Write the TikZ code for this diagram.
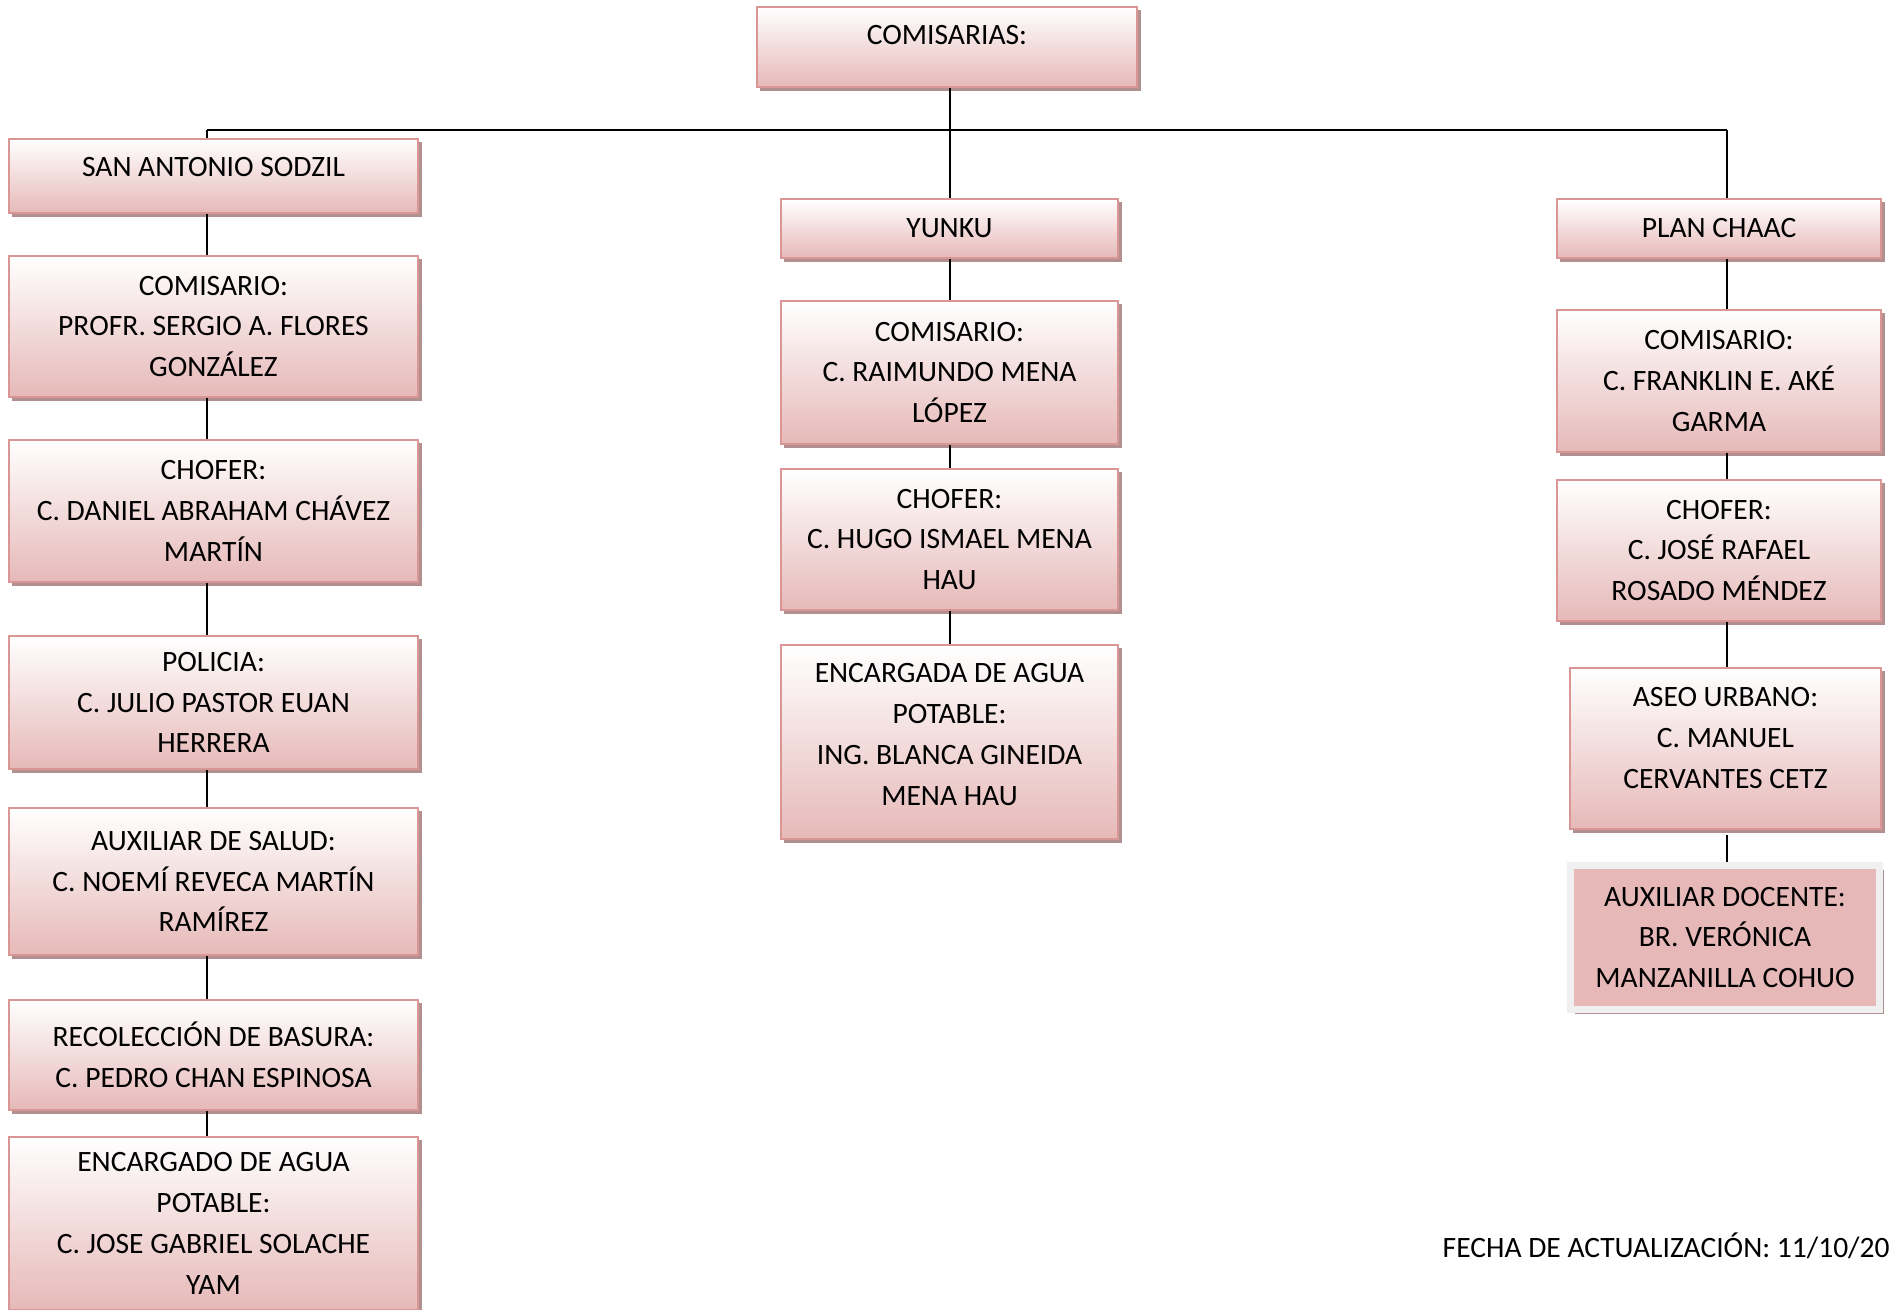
\documentclass[tikz,border=0pt]{standalone}
\usepackage{fontspec}
\setmainfont{Carlito}
\usepackage{tikz}
\usetikzlibrary{shadows}

\definecolor{rosa}{HTML}{E6B9B8}
\definecolor{rosaborde}{HTML}{D99694}
\definecolor{sombra}{HTML}{B39090}
\definecolor{grisclaro}{HTML}{F0F0F0}

\tikzset{
  caja/.style={draw=rosaborde, line width=0.7pt, top color=white, bottom color=rosa,
    align=center, inner sep=1pt,
    drop shadow={shadow xshift=0.035cm, shadow yshift=-0.035cm, fill=sombra, opacity=1}},
  izq/.style={caja, minimum width=4.09cm},
  cen/.style={caja, minimum width=3.37cm},
  der/.style={caja, minimum width=3.24cm},
  docente/.style={draw=grisclaro, line width=2pt, fill=rosa, align=center,
    drop shadow={shadow xshift=0.045cm, shadow yshift=-0.045cm, fill=sombra, opacity=1}},
  linea/.style={draw=black, line width=0.65pt}
}

\begin{document}
\begin{tikzpicture}[x=0.01cm, y=-0.01cm, font=\fontsize{8.4}{11.6}\selectfont]
\useasboundingbox (0,0) rectangle (1891,1309);

% titulo
\node[caja, minimum width=3.80cm, minimum height=0.80cm, text depth=0.24cm] (comis) at (947,47) {COMISARIAS:};
\coordinate (bus) at (950,130);
\coordinate (lx) at (207,0);
\coordinate (mx) at (950,0);
\coordinate (rx) at (1727,0);

% San Antonio Sodzil
\node[izq, minimum height=0.74cm, text depth=0.18cm] (san) at (213.5,176) {SAN ANTONIO SODZIL};
\node[izq, minimum height=1.41cm] (com1) at (213.5,326.5) {COMISARIO:\\PROFR. SERGIO A. FLORES\\GONZÁLEZ};
\node[izq, minimum height=1.42cm] (cho1) at (213.5,511) {CHOFER:\\C. DANIEL ABRAHAM CHÁVEZ\\MARTÍN};
\node[izq, minimum height=1.33cm] (pol) at (213.5,702.5) {POLICIA:\\C. JULIO PASTOR EUAN\\HERRERA};
\node[izq, minimum height=1.47cm] (aux) at (213.5,881.5) {AUXILIAR DE SALUD:\\C. NOEMÍ REVECA MARTÍN\\RAMÍREZ};
\node[izq, minimum height=1.10cm] (rec) at (213.5,1055) {RECOLECCIÓN DE BASURA:\\C. PEDRO CHAN ESPINOSA};
\node[izq, minimum height=1.73cm] (agua1) at (213.5,1223.5) {ENCARGADO DE AGUA\\POTABLE:\\C. JOSE GABRIEL SOLACHE\\YAM};

% Yunku
\node[cen, minimum height=0.59cm] (yun) at (949.5,228.5) {YUNKU};
\node[cen, minimum height=1.43cm] (com2) at (949.5,372.5) {COMISARIO:\\C. RAIMUNDO MENA\\LÓPEZ};
\node[cen, minimum height=1.41cm] (cho2) at (949.5,539.5) {CHOFER:\\C. HUGO ISMAEL MENA\\HAU};
\node[cen, minimum height=1.94cm, text depth=0.15cm] (agua2) at (949.5,742) {ENCARGADA DE AGUA\\POTABLE:\\ING. BLANCA GINEIDA\\MENA HAU};

% Plan Chaac
\node[der, minimum height=0.59cm] (plan) at (1719,228.5) {PLAN CHAAC};
\node[der, minimum height=1.42cm] (com3) at (1719,381) {COMISARIO:\\C. FRANKLIN E. AKÉ\\GARMA};
\node[der, minimum height=1.41cm] (cho3) at (1719,550.5) {CHOFER:\\C. JOSÉ RAFAEL\\ROSADO MÉNDEZ};
\node[caja, minimum width=3.11cm, minimum height=1.61cm, text depth=0.21cm] (aseo) at (1725.5,748.5) {ASEO URBANO:\\C. MANUEL\\CERVANTES CETZ};
\node[docente, minimum width=3.09cm, minimum height=1.44cm] (doc) at (1725,937.5) {AUXILIAR DOCENTE:\\BR. VERÓNICA\\MANZANILLA COHUO};

\node[anchor=west, inner sep=0pt] (fecha) at (1442,1246) {FECHA DE ACTUALIZACIÓN: 11/10/20};

% conectores
\draw[linea] (bus -| lx) -- (bus -| rx);
\foreach \a/\b/\c in {comis/yun/mx, bus/san/lx, bus/plan/rx}
  \draw[linea] (\a.south -| \c) -- (\b.north -| \c);
\foreach \a/\b/\c in {san/com1/lx, com1/cho1/lx, cho1/pol/lx, pol/aux/lx, aux/rec/lx, rec/agua1/lx,
                   yun/com2/mx, com2/cho2/mx, cho2/agua2/mx,
                   plan/com3/rx, com3/cho3/rx, cho3/aseo/rx}
  \draw[linea] (\a.south -| \c) -- (\b.north -| \c);
\draw[linea] ([yshift=-0.05cm]aseo.south -| rx) -- (doc.north -| rx);
\end{tikzpicture}
\end{document}
